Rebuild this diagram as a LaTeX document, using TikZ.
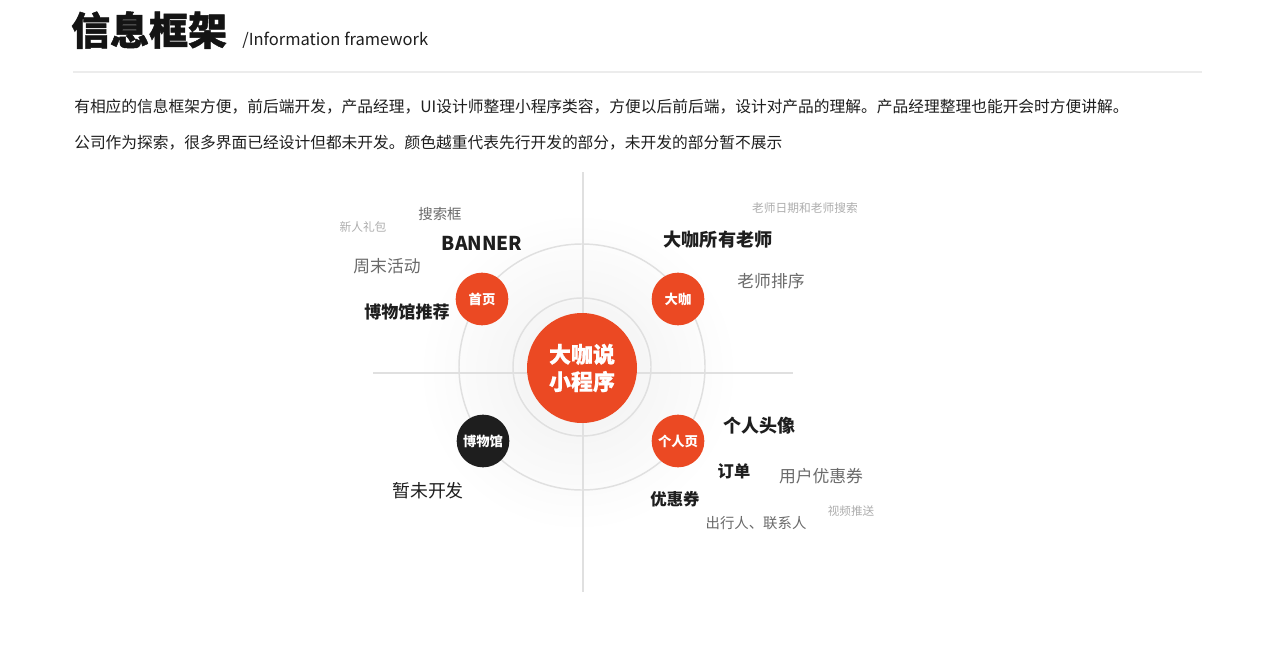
\documentclass[tikz,border=0pt]{standalone}
\usepackage{fontspec}
\setmainfont{Noto Sans CJK SC}
\usetikzlibrary{positioning}
\definecolor{brand}{HTML}{EB4923}
\definecolor{ink}{HTML}{1E1E1E}
\definecolor{mid}{HTML}{6A6A6A}
\definecolor{pale}{HTML}{AEAEAE}
\definecolor{axis}{HTML}{E0E0E0}

\begin{document}
\begin{tikzpicture}[x=0.75pt,y=-0.75pt,
  hub/.style={circle,fill=brand,text=white,inner sep=0pt,minimum size=82.5pt,
    align=center,font=\bfseries\addfontfeature{FakeBold=0.6}\fontsize{16.5}{20.5}\selectfont},
  page/.style={circle,fill=brand,text=white,inner sep=0pt,minimum size=39.5pt,
    font=\bfseries\fontsize{10}{11}\selectfont},
  key/.style={text=ink,inner sep=0pt,font=\bfseries},
  minor/.style={text=mid,inner sep=0pt},
  faint/.style={text=pale,inner sep=0pt},
  ring/.style={draw=axis,line width=1.1pt}]
\useasboundingbox (0,0) rectangle (1280,649);
\fill[white] (0,0) rectangle (1280,649);

% heading
\node[anchor=base west,inner sep=0pt,text=black!92,font=\bfseries\addfontfeature{FakeBold=1.2}\fontsize{29.2}{30}\selectfont] (title) at (71,45) {信息框架};
\node[anchor=base west,inner sep=0pt,text=ink,font=\fontsize{12.4}{14}\selectfont] (subtitle) at (242,46) {/Information framework};
\draw[axis!60,line width=0.8pt] (73,72) -- (1202,72);
\node[anchor=base west,inner sep=0pt,text=ink,font=\fontsize{11.8}{14}\selectfont] (intro) at (74,113)
  {有相应的信息框架方便，前后端开发，产品经理，UI设计师整理小程序类容，方便以后前后端，设计对产品的理解。产品经理整理也能开会时方便讲解。};
\node[anchor=base west,inner sep=0pt,text=ink,font=\fontsize{11.8}{14}\selectfont] (note) at (74,149)
  {公司作为探索，很多界面已经设计但都未开发。颜色越重代表先行开发的部分，未开发的部分暂不展示};

% glow, axes, rings
\shade[inner color=black!6,outer color=white] (578,372) circle (160);
\coordinate (top) at (583,172);
\coordinate (bottom) at (583,592);
\coordinate (left) at (373,373);
\coordinate (right) at (793,373);
\draw[axis,line width=1.1pt] (top) -- (bottom);
\draw[axis,line width=1.1pt] (left) -- (right);
\draw[ring] (582,367) circle (123);
\draw[ring] (582,367) circle (69);

% centre and pages
\node[hub] (hub) at (582,368) {大咖说\\小程序};
\node[page] (home) at (482,299) {首页};
\node[page] (star) at (678,299) {大咖};
\node[page,fill=ink] (museum) at (483,441) {博物馆};
\node[page] (mine) at (678,441) {个人页};

% home labels
\node[faint,font=\fontsize{8.8}{10}\selectfont] (gift) at (363,227) {新人礼包};
\node[minor,font=\fontsize{10.8}{12}\selectfont] (search) at (440,214) {搜索框};
\node[key,font=\bfseries\fontsize{14.3}{16}\selectfont] (banner) at (482,243) {BANNER};
\node[minor,font=\fontsize{12.6}{14}\selectfont] (weekend) at (387,266) {周末活动};
\node[key,font=\bfseries\fontsize{12.8}{14}\selectfont] (recommend) at (407,312) {博物馆推荐};

% star labels
\node[faint,font=\fontsize{8.8}{10}\selectfont] (datesearch) at (805,208) {老师日期和老师搜索};
\node[key,font=\bfseries\fontsize{13.6}{15}\selectfont] (allteachers) at (718,240) {大咖所有老师};
\node[minor,font=\fontsize{12.6}{14}\selectfont] (sorting) at (771,281) {老师排序};

% museum labels
\node[key,font=\fontsize{13.4}{15}\selectfont] (pending) at (428,491) {暂未开发};

% mine labels
\node[key,font=\bfseries\fontsize{13.5}{15}\selectfont] (avatar) at (759,426) {个人头像};
\node[key,font=\bfseries\fontsize{12.2}{14}\selectfont] (orders) at (734,471) {订单};
\node[minor,font=\fontsize{12.6}{14}\selectfont] (usercoupon) at (821,476) {用户优惠券};
\node[key,font=\bfseries\fontsize{12.3}{14}\selectfont] (coupon) at (675,499) {优惠券};
\node[faint,font=\fontsize{8.7}{10}\selectfont] (video) at (851,511) {视频推送};
\node[minor,font=\fontsize{10.8}{12}\selectfont] (contacts) at (756,523) {出行人、联系人};
\end{tikzpicture}
\end{document}
